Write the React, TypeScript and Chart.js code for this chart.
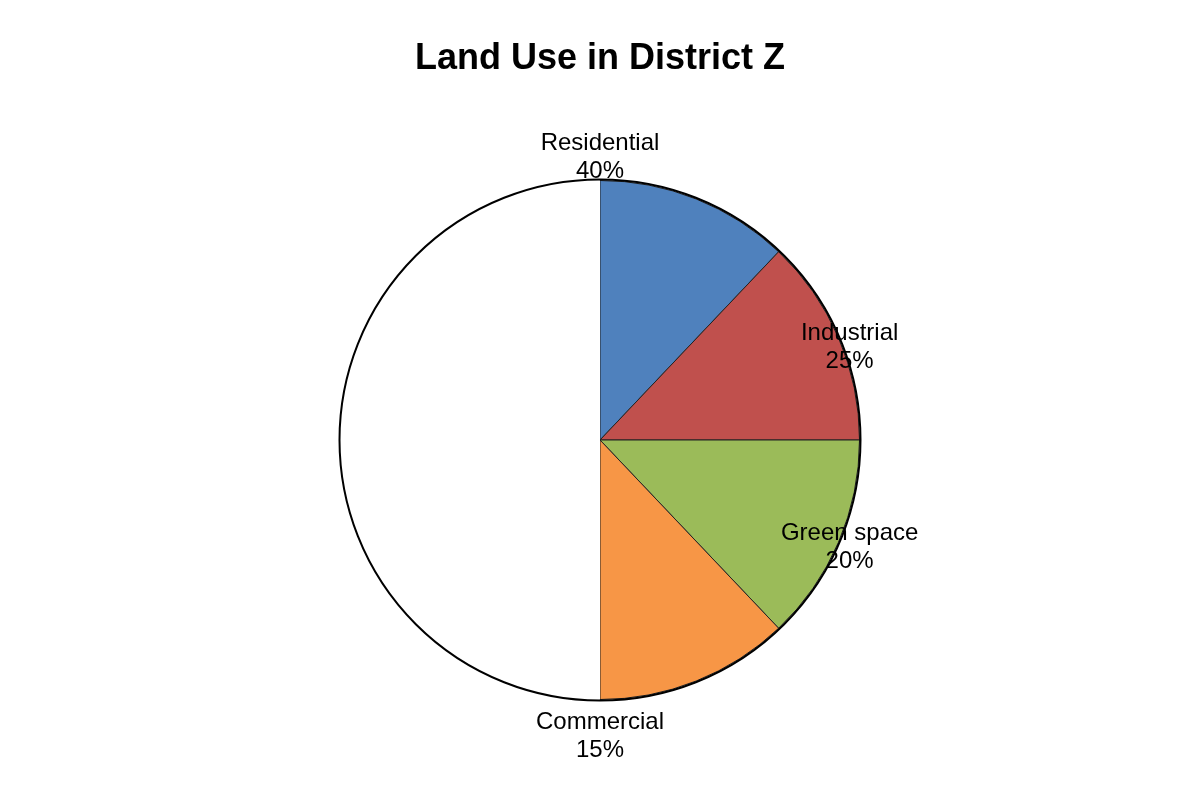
import React, { useRef, useEffect } from 'react';
import { Chart, registerables } from 'chart.js';

Chart.register(...registerables);

// land use categories and their shares (%)
const categories = ['Residential', 'Industrial', 'Green space', 'Commercial'];
const shares = [40, 25, 20, 15];
// wedge sweeps in degrees, as drawn in the picture (right half only)
const wedgeSweeps = [43.5, 46.5, 46.5, 43.5];
const blankSweep = 180;

const colors = ['#4F81BD', '#C0504D', '#9BBB59', '#F79646'];

// label centres, as multiples of the pie radius from the pie centre
const labelOffsets = [
  [0, -1.088],
  [0.962, -0.356],
  [0.962, 0.414],
  [0, 1.142],
];

const FONT = '"Liberation Sans", Arial, sans-serif';

const outlineAndLabels = {
  id: 'outlineAndLabels',
  afterDatasetsDraw(chart) {
    const arc = chart.getDatasetMeta(0).data[0];
    if (!arc) return;
    const { x, y, outerRadius } = arc.getProps(['x', 'y', 'outerRadius'], true);
    const ctx = chart.ctx;
    ctx.save();
    ctx.beginPath();
    ctx.arc(x, y, outerRadius + 1, 0, Math.PI * 2);
    ctx.lineWidth = 2;
    ctx.strokeStyle = '#000';
    ctx.stroke();

    ctx.fillStyle = '#000';
    ctx.font = `24px ${FONT}`;
    ctx.textAlign = 'center';
    ctx.textBaseline = 'middle';
    categories.forEach((name, i) => {
      const cx = x + labelOffsets[i][0] * outerRadius;
      const cy = y + labelOffsets[i][1] * outerRadius;
      ctx.fillText(name, cx, cy - 14);
      ctx.fillText(`${shares[i]}%`, cx, cy + 14);
    });
    ctx.restore();
  },
};

const App = () => {
  const canvasRef = useRef(null);

  useEffect(() => {
    document.body.style.margin = '0';
    const chart = new Chart(canvasRef.current, {
      type: 'pie',
      data: {
        labels: [...categories, ''],
        datasets: [
          {
            data: [...wedgeSweeps, blankSweep],
            backgroundColor: [...colors, '#ffffff'],
            borderColor: ['#222', '#222', '#222', '#222', 'rgba(0,0,0,0)'],
            borderWidth: 1,
          },
        ],
      },
      options: {
        responsive: true,
        maintainAspectRatio: false,
        animation: false,
        devicePixelRatio: 1,
        layout: { padding: { top: 0, bottom: 100 } },
        plugins: {
          legend: { display: false },
          tooltip: { enabled: false },
          title: {
            display: true,
            text: 'Land Use in District Z',
            color: '#000',
            font: { family: FONT, size: 36, weight: 'bold' },
            padding: { top: 37, bottom: 99.8 },
          },
        },
      },
      plugins: [outlineAndLabels],
    });
    return () => {
      chart.destroy();
    };
  }, []);

  return (
    <div style={{ width: 1200, height: 800, position: 'relative', background: '#fff' }}>
      <canvas ref={canvasRef} />
    </div>
  );
};

export default App;
